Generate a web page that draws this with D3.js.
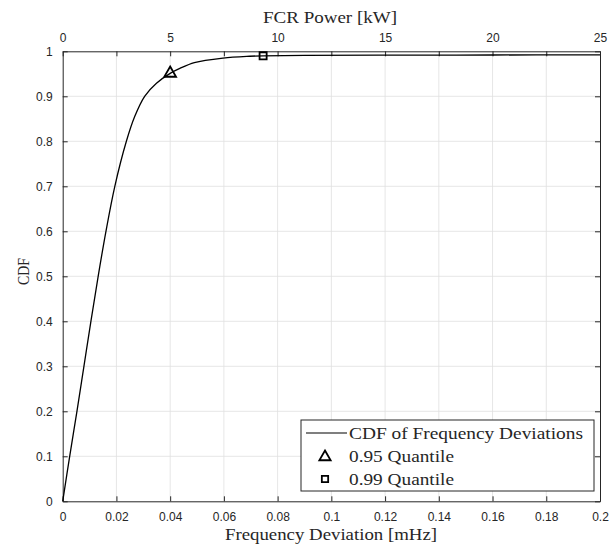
<!DOCTYPE html>
<html><head><meta charset="utf-8">
<script src="https://cdn.jsdelivr.net/npm/d3@7"></script>
<style>body{margin:0;background:#fff}svg{display:block}</style>
</head><body>
<svg id="c" width="616" height="546"></svg>
<script>
// Data
const cdfX = [0,0.0026,0.0053,0.0079,0.0105,0.0132,0.0161,0.0194,0.0237,0.0268,0.0305,0.0349,0.040,0.0436,0.049,0.0597,0.0696,0.0746,0.09,0.12,0.16,0.2];
const cdfY = [0,0.1,0.2,0.3,0.4,0.5,0.6,0.7,0.8,0.855,0.9,0.929,0.951,0.962,0.975,0.985,0.989,0.990,0.991,0.9915,0.9918,0.992];
const q95 = [0.040, 0.951];
const q99 = [0.0746, 0.990];
const xTicks = [0,0.02,0.04,0.06,0.08,0.1,0.12,0.14,0.16,0.18,0.2];
const yTicks = [0,0.1,0.2,0.3,0.4,0.5,0.6,0.7,0.8,0.9,1];
const topTicks = [0,5,10,15,20,25];
const topMinor = [0,2.5,5,7.5,10,12.5,15,17.5,20,22.5,25];
const legendLabels = ["CDF of Frequency Deviations","0.95 Quantile","0.99 Quantile"];

const L=62.7,R=600,T=51.3,B=501.3;
const svg=d3.select("#c");
const x=d3.scaleLinear().domain([0,0.2]).range([L,R]);
const xt=d3.scaleLinear().domain([0,25]).range([L,R]);
const y=d3.scaleLinear().domain([0,1]).range([B,T]);
const axCol="#262626", gridCol="#dfdfdf";
const sans="Liberation Sans, Arial, sans-serif", serif="Liberation Serif, Times New Roman, serif";

// grid
svg.append("g").selectAll("line").data(xTicks.slice(1,-1)).join("line")
  .attr("x1",d=>x(d)).attr("x2",d=>x(d)).attr("y1",T).attr("y2",B)
  .attr("stroke",gridCol).attr("stroke-width",0.8);
svg.append("g").selectAll("line").data(yTicks.slice(1,-1)).join("line")
  .attr("y1",d=>y(d)).attr("y2",d=>y(d)).attr("x1",L).attr("x2",R)
  .attr("stroke",gridCol).attr("stroke-width",0.8);

// axes
function styleAxis(g){
  g.select(".domain").attr("stroke",axCol).attr("stroke-width",1);
  g.selectAll(".tick line").attr("stroke",axCol).attr("stroke-width",1);
  g.selectAll(".tick text").attr("fill",axCol).attr("font-family",sans).attr("font-size","12px");
}
const fmt=d=>d===0?"0":(d===1?"1":String(+d.toFixed(2)));
svg.append("g").attr("transform",`translate(0,${B})`)
  .call(d3.axisBottom(x).tickValues(xTicks).tickFormat(fmt).tickSizeInner(-5).tickSizeOuter(0).tickPadding(11.5))
  .call(styleAxis);
svg.append("g").attr("transform",`translate(${L},0)`)
  .call(d3.axisLeft(y).tickValues(yTicks).tickFormat(fmt).tickSizeInner(-5).tickSizeOuter(0).tickPadding(10))
  .call(styleAxis);
svg.append("g").attr("transform",`translate(${R},0)`)
  .call(d3.axisRight(y).tickValues(yTicks).tickFormat("").tickSizeInner(-5).tickSizeOuter(0))
  .call(styleAxis);
svg.append("g").attr("transform",`translate(0,${T})`)
  .call(d3.axisTop(xt).tickValues(topMinor).tickFormat(d=>topTicks.includes(d)?String(d):"").tickSizeInner(-5).tickSizeOuter(0).tickPadding(9))
  .call(styleAxis);

// curve
const pts=cdfX.map((v,i)=>[v,cdfY[i]]);
svg.append("path").datum(pts)
  .attr("d",d3.line().x(d=>x(d[0])).y(d=>y(d[1])).curve(d3.curveCatmullRom.alpha(0.5)))
  .attr("fill","none").attr("stroke","#000").attr("stroke-width",1.3);

// markers
const tri=d3.symbol().type(d3.symbolTriangle).size(60);
const sq=d3.symbol().type(d3.symbolSquare).size(50);
svg.append("path").attr("d",tri()).attr("transform",`translate(${x(q95[0])},${y(q95[1])})`)
  .attr("fill","none").attr("stroke","#000").attr("stroke-width",1.8);
svg.append("path").attr("d",sq()).attr("transform",`translate(${x(q99[0])},${y(q99[1])})`)
  .attr("fill","none").attr("stroke","#000").attr("stroke-width",1.8);

// labels
function serifText(sel,len){
  return sel.attr("font-family",serif).attr("font-size","17px").attr("fill",axCol)
    .attr("textLength",len).attr("lengthAdjust","spacingAndGlyphs");
}
serifText(svg.append("text").attr("x",263).attr("y",23),134).text("FCR Power [kW]");
serifText(svg.append("text").attr("x",225).attr("y",539.5),212).text("Frequency Deviation [mHz]");
serifText(svg.append("text").attr("transform","translate(28.5,285) rotate(-90)"),27).text("CDF");

// legend
const lg=svg.append("g");
lg.append("rect").attr("x",301).attr("y",420).attr("width",293).attr("height",71)
  .attr("fill","#fff").attr("stroke",axCol).attr("stroke-width",1);
const rowY=[433,456,479];
lg.append("line").attr("x1",306).attr("x2",347).attr("y1",rowY[0]).attr("y2",rowY[0]).attr("stroke","#000").attr("stroke-width",1.2);
lg.append("path").attr("d",d3.symbol().type(d3.symbolTriangle).size(55)()).attr("transform",`translate(325,${rowY[1]+1})`)
  .attr("fill","none").attr("stroke","#000").attr("stroke-width",1.8);
lg.append("path").attr("d",d3.symbol().type(d3.symbolSquare).size(40)()).attr("transform",`translate(325,${rowY[2]})`)
  .attr("fill","none").attr("stroke","#000").attr("stroke-width",1.8);
const lens=[234,105,105];
lg.selectAll("text").data(legendLabels).join("text")
  .attr("x",349).attr("y",(d,i)=>rowY[i]+5.5)
  .attr("font-family",serif).attr("font-size","17px").attr("fill",axCol)
  .attr("textLength",(d,i)=>lens[i]).attr("lengthAdjust","spacingAndGlyphs").text(d=>d);
</script>
</body></html>
